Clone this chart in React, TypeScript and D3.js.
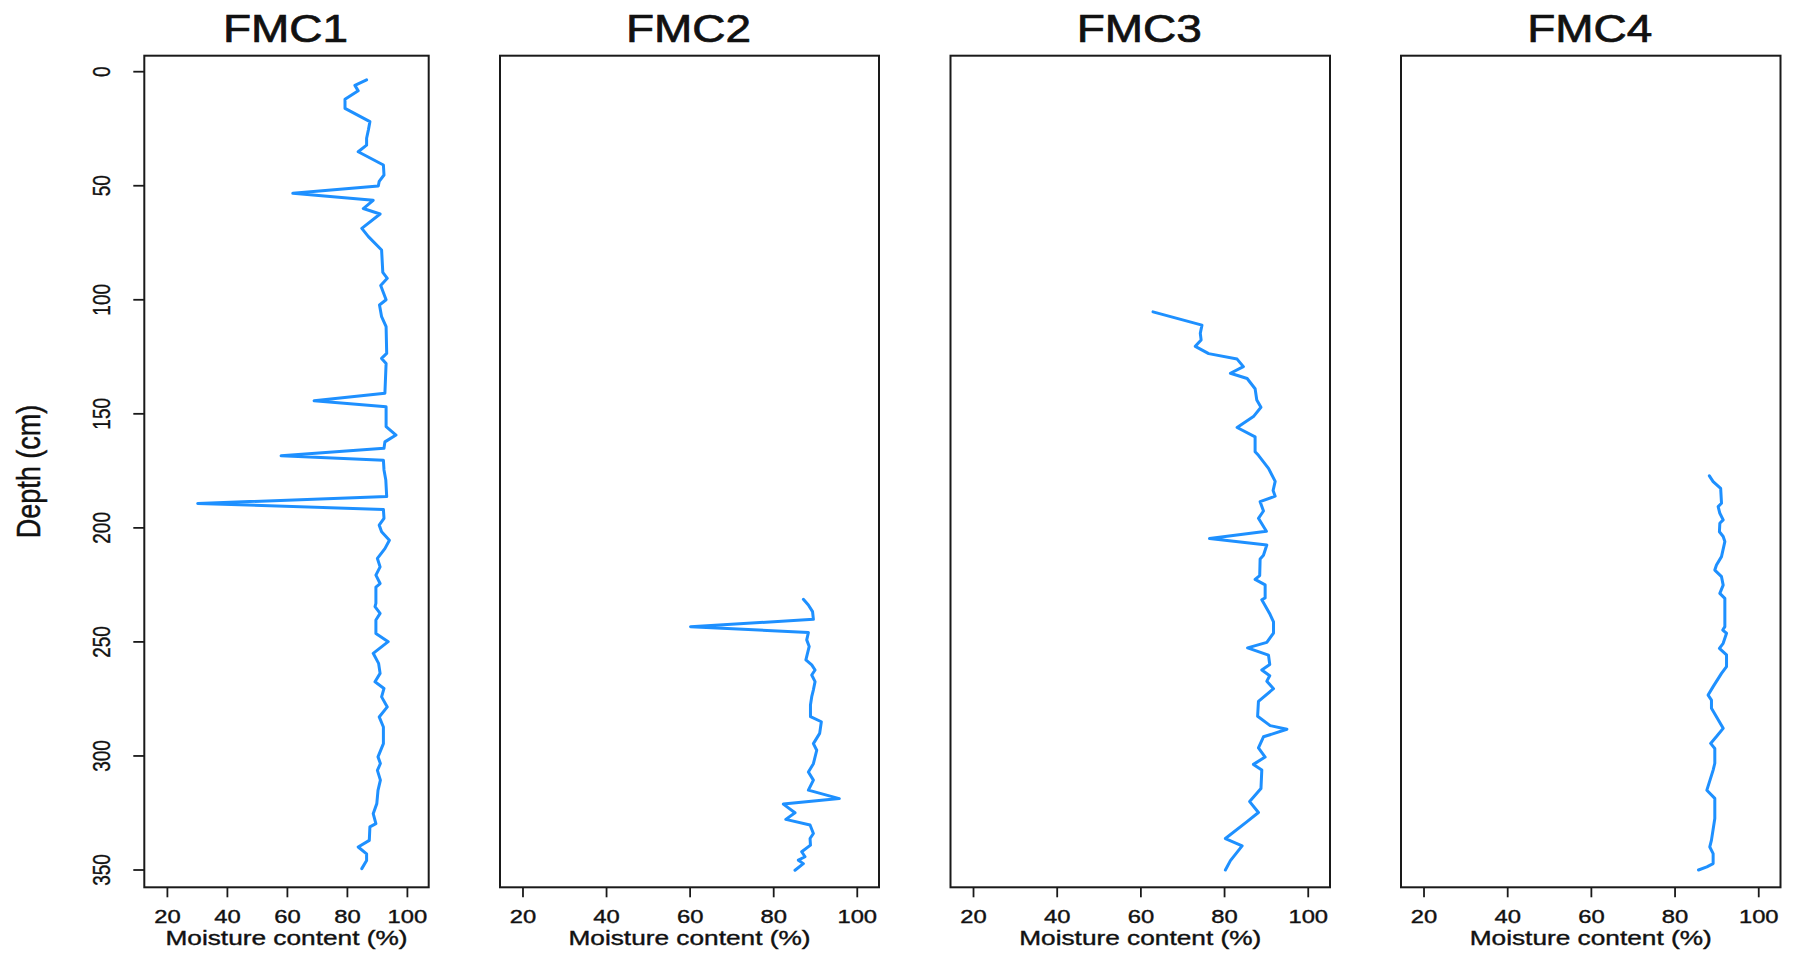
import React from "react";
import * as d3 from "d3";

// ---------- data ----------
const panelTitles = ["FMC1", "FMC2", "FMC3", "FMC4"];
const xTickValues = [20, 40, 60, 80, 100];
const yTickValues = [0, 50, 100, 150, 200, 250, 300, 350];
const xAxisLabel = "Moisture content (%)";
const yAxisLabel = "Depth (cm)";

const fmc1Depth = [3.6, 6.0, 8.4, 12.1, 16.1, 21.9, 25.5, 29.2, 32.2, 35.1, 40.9, 45.3, 48.1, 50.1, 53.3, 56.4, 60.0, 62.4, 68.7, 72.3, 78.2, 88.0, 90.6, 93.7, 100.0, 102.3, 107.4, 111.8, 123.5, 125.7, 127.9, 141.0, 144.3, 146.9, 155.6, 159.3, 162.3, 165.1, 168.4, 170.3, 174.6, 179.0, 186.3, 189.3, 191.9, 195.8, 198.8, 201.7, 205.4, 209.1, 213.4, 217.1, 220.7, 224.4, 226.0, 233.1, 234.5, 237.5, 240.4, 246.3, 249.9, 255.0, 259.4, 263.8, 267.5, 270.4, 274.1, 278.5, 282.9, 287.3, 294.6, 300.4, 303.3, 306.3, 310.6, 315.1, 320.9, 325.3, 329.7, 331.1, 337.0, 339.9, 342.9, 345.8, 349.4];
const fmc1Moisture = [86.4, 82.5, 83.6, 79.2, 79.2, 87.5, 87.0, 86.4, 86.4, 83.6, 92.0, 92.2, 90.6, 90.3, 61.8, 88.6, 85.3, 90.9, 84.8, 87.0, 91.4, 91.8, 93.3, 91.1, 92.9, 90.7, 91.4, 92.9, 93.1, 91.4, 92.9, 92.5, 68.9, 92.9, 92.9, 96.2, 92.5, 92.2, 57.9, 92.0, 92.2, 92.8, 93.1, 30.1, 92.0, 92.2, 90.6, 91.4, 94.0, 92.5, 90.0, 90.9, 89.5, 90.9, 89.5, 89.5, 89.2, 90.9, 89.5, 89.5, 93.6, 88.6, 90.4, 90.9, 89.2, 92.2, 91.4, 93.3, 90.6, 92.0, 92.0, 90.2, 91.0, 90.0, 91.0, 90.2, 89.8, 88.6, 89.5, 87.5, 87.3, 83.6, 86.4, 86.4, 84.8];

const fmc2Depth = [231.3, 233.8, 236.7, 240.1, 243.3, 245.9, 249.1, 252.0, 257.9, 260.1, 262.3, 264.5, 267.4, 271.0, 274.0, 277.6, 282.8, 285.0, 290.1, 294.6, 297.5, 303.4, 307.0, 310.6, 315.0, 318.7, 321.1, 324.9, 327.8, 330.3, 334.0, 336.2, 339.1, 342.0, 344.2, 345.7, 347.2, 350.1];
const fmc2Moisture = [87.1, 88.3, 89.3, 89.5, 60.1, 88.3, 87.9, 88.5, 87.7, 89.1, 89.9, 89.1, 89.9, 89.5, 89.1, 88.8, 88.8, 91.4, 91.0, 89.5, 90.3, 89.5, 88.3, 89.5, 88.3, 95.7, 82.3, 85.1, 82.9, 88.7, 89.5, 88.7, 88.8, 86.7, 87.5, 85.9, 87.1, 85.1];

const fmc3Depth = [105.3, 111.1, 114.7, 117.6, 120.4, 123.6, 126.0, 129.3, 132.2, 134.5, 139.0, 143.9, 147.1, 151.2, 156.0, 160.1, 166.6, 168.2, 173.9, 179.6, 183.6, 186.1, 188.5, 192.6, 195.8, 201.5, 204.7, 207.5, 212.0, 213.6, 220.9, 222.6, 225.0, 230.7, 231.5, 238.0, 241.2, 246.1, 250.2, 252.6, 255.8, 259.9, 262.3, 264.8, 267.2, 270.5, 276.1, 282.6, 286.7, 288.3, 291.6, 296.5, 300.5, 303.7, 306.2, 314.3, 320.0, 324.8, 328.9, 336.2, 339.4, 345.9, 350.0];
const fmc3Moisture = [62.9, 74.6, 74.2, 74.4, 73.0, 76.2, 83.0, 84.5, 81.4, 85.4, 87.3, 87.7, 88.7, 86.9, 83.0, 87.3, 87.3, 88.1, 90.5, 92.1, 91.6, 92.1, 88.5, 89.3, 88.1, 90.0, 76.4, 90.1, 89.3, 88.5, 88.4, 87.3, 89.7, 89.7, 88.9, 90.9, 91.7, 91.7, 90.1, 85.5, 90.5, 90.8, 88.9, 90.8, 90.1, 91.7, 88.1, 87.9, 90.9, 94.9, 89.3, 88.1, 89.7, 86.9, 88.9, 88.7, 86.0, 88.1, 85.3, 80.2, 84.2, 81.4, 80.2];

const fmc4Depth = [177.2, 179.7, 182.7, 189.2, 190.7, 193.6, 196.5, 198.0, 201.7, 203.8, 206.0, 212.6, 216.3, 218.5, 221.4, 225.1, 228.7, 230.9, 243.3, 244.8, 246.2, 250.6, 252.8, 255.7, 260.8, 263.8, 269.6, 273.3, 275.5, 279.1, 287.9, 291.5, 294.5, 296.7, 303.2, 306.2, 315.0, 318.6, 327.4, 336.9, 339.9, 342.8, 347.2, 348.6, 350.0];
const fmc4Moisture = [88.2, 89.1, 90.9, 91.1, 90.3, 90.7, 91.5, 90.7, 90.6, 91.5, 91.9, 91.1, 89.9, 89.5, 91.1, 91.5, 90.7, 91.9, 91.9, 91.4, 92.3, 91.5, 90.6, 92.3, 92.3, 91.1, 89.1, 87.9, 88.7, 88.7, 91.5, 89.9, 88.5, 89.5, 89.5, 89.1, 87.6, 89.5, 89.5, 88.7, 88.3, 89.1, 89.1, 87.6, 85.6];

const seriesDepths = [fmc1Depth, fmc2Depth, fmc3Depth, fmc4Depth];
const seriesMoisture = [fmc1Moisture, fmc2Moisture, fmc3Moisture, fmc4Moisture];

// ---------- layout ----------
const W = 1802;
const H = 954;
const boxTop = 55.7;
const boxBottom = 887.3;
const panels = [
  { left: 144.3, right: 428.7, xDomain: [12.3, 107.1] },
  { left: 500, right: 879, xDomain: [14.5, 105.2] },
  { left: 950.5, right: 1330, xDomain: [14.5, 105.2] },
  { left: 1401, right: 1780.5, xDomain: [14.5, 105.2] },
];
const FONT = "'Liberation Sans', Arial, Helvetica, sans-serif";
const SX = 1.25;
const LINE_COLOR = "#1E90FF";
const TEXT_COLOR = "#111";

const yScale = d3.scaleLinear().domain([0, 350]).range([71.7, 870]);

export default function App() {
  return (
    <div style={{ position: "absolute", left: 0, top: 0, width: W, height: H, background: "#fff" }}>
      <svg width={W} height={H} viewBox={`0 0 ${W} ${H}`} style={{ display: "block" }}>
        <rect x={0} y={0} width={W} height={H} fill="#fff" />
        {panels.map((p, i) => {
          const xScale = d3.scaleLinear().domain(p.xDomain).range([p.left, p.right]);
          const data = seriesDepths[i].map((dep, k) => ({ d: dep, m: seriesMoisture[i][k] }));
          const line = d3
            .line<{ d: number; m: number }>()
            .x((v) => xScale(v.m))
            .y((v) => yScale(v.d));
          const cx = (p.left + p.right) / 2;
          return (
            <g key={i}>
              <path
                d={line(data) || ""}
                fill="none"
                stroke={LINE_COLOR}
                strokeWidth={3}
                strokeLinejoin="round"
                strokeLinecap="round"
              />
              <rect
                x={p.left}
                y={boxTop}
                width={p.right - p.left}
                height={boxBottom - boxTop}
                fill="none"
                stroke="#1a1a1a"
                strokeWidth={2}
              />
              {xTickValues.map((t) => (
                <g key={t}>
                  <line
                    x1={xScale(t)}
                    x2={xScale(t)}
                    y1={boxBottom}
                    y2={boxBottom + 10}
                    stroke="#1a1a1a"
                    strokeWidth={1.8}
                  />
                  <text
                    transform={`translate(${xScale(t)},923) scale(${SX},1)`}
                    textAnchor="middle"
                    fontFamily={FONT}
                    fontSize={19}
                    fill={TEXT_COLOR}
                    stroke={TEXT_COLOR}
                    strokeWidth={0.4}
                  >
                    {t}
                  </text>
                </g>
              ))}
              <text
                transform={`translate(${cx},945) scale(${SX},1)`}
                textAnchor="middle"
                fontFamily={FONT}
                fontSize={21}
                fill={TEXT_COLOR}
                stroke={TEXT_COLOR}
                strokeWidth={0.4}
              >
                {xAxisLabel}
              </text>
              <text
                transform={`translate(${cx - 1},41.7) scale(1.21,1)`}
                textAnchor="middle"
                fontFamily={FONT}
                fontSize={38}
                fill={TEXT_COLOR}
                stroke={TEXT_COLOR}
                strokeWidth={0.7}
              >
                {panelTitles[i]}
              </text>
              {i === 0 &&
                yTickValues.map((t) => (
                  <g key={"y" + t}>
                    <line
                      x1={p.left - 11}
                      x2={p.left}
                      y1={yScale(t)}
                      y2={yScale(t)}
                      stroke="#1a1a1a"
                      strokeWidth={1.8}
                    />
                    <text
                      transform={`translate(110,${yScale(t)}) scale(${SX},1) rotate(-90)`}
                      textAnchor="middle"
                      fontFamily={FONT}
                      fontSize={19}
                      fill={TEXT_COLOR}
                      stroke={TEXT_COLOR}
                      strokeWidth={0.3}
                    >
                      {t}
                    </text>
                  </g>
                ))}
            </g>
          );
        })}
        <text
          transform={`translate(40,${(boxTop + boxBottom) / 2}) scale(${SX},1) rotate(-90)`}
          textAnchor="middle"
          fontFamily={FONT}
          fontSize={27}
          fill={TEXT_COLOR}
          stroke={TEXT_COLOR}
          strokeWidth={0.4}
        >
          {yAxisLabel}
        </text>
      </svg>
    </div>
  );
}
